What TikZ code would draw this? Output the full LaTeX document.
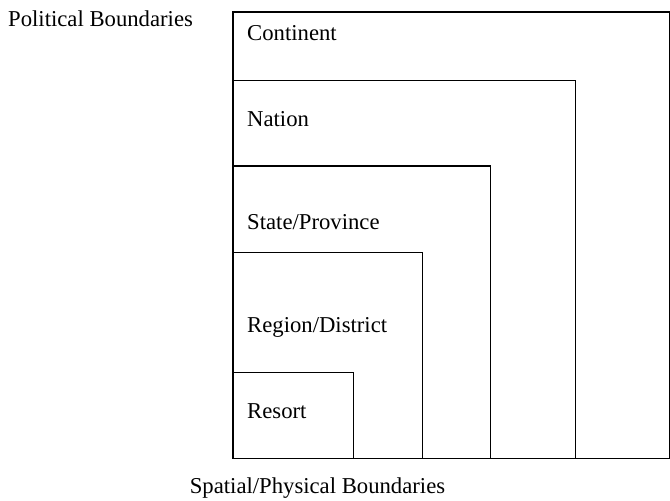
\documentclass[tikz,border=0pt]{standalone}
\usepackage{fontspec}
\setmainfont{Liberation Serif}
\begin{document}
\begin{tikzpicture}[x=1pt,y=-1pt,
  lvl/.style={draw=black,line width=1.3pt},
  lbl/.style={anchor=base west,inner sep=0pt,font=\fontsize{22.7}{24}\selectfont}]
\useasboundingbox (0,0) rectangle (670,501);
% nested boundary boxes sharing the lower-left corner
\draw[lvl] (233,458.5) rectangle (669.5,12);
\draw[lvl] (233,458.5) rectangle (575.5,80.5);
\draw[lvl] (233,458.5) rectangle (490.5,166);
\draw[lvl] (233,458.5) rectangle (422.5,252.5);
\draw[lvl] (233,458.5) rectangle (353.5,372.5);
% level labels
\node[lbl] (cont) at (247,40) {Continent};
\node[lbl] (nat) at (247,126) {Nation};
\node[lbl] (state) at (247,229) {State/Province};
\node[lbl] (reg) at (247,332) {Region/District};
\node[lbl] (res) at (247,418) {Resort};
% axis captions
\node[lbl] (pol) at (8,26) {Political Boundaries};
\node[lbl,anchor=base] (spa) at (317.5,493) {Spatial/Physical Boundaries};
\end{tikzpicture}
\end{document}
